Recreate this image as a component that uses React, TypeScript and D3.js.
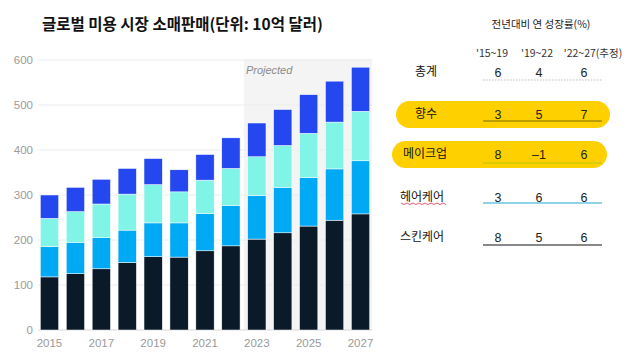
import React from 'react';
import * as d3 from 'd3';

// 연도별 소매판매 (단위: 10억 달러), 아래부터 위로 쌓임
const years = ['2015', '2016', '2017', '2018', '2019', '2020', '2021', '2022', '2023', '2024', '2025', '2026', '2027'];
const skinCare = [118, 125, 136, 150, 163, 162, 176, 187, 202, 216, 231, 244, 258];
const hairCare = [67, 70, 69, 72, 75, 76, 83, 90, 97, 101, 108, 114, 118];
const makeup = [63, 68, 75, 80, 85, 69, 74, 82, 86, 93, 98, 104, 110];
const fragrance = [52, 54, 55, 57, 58, 49, 57, 68, 75, 80, 86, 91, 98];
const projectedFrom = '2023';
const yTicks = [0, 100, 200, 300, 400, 500, 600];
const xLabels = ['2015', '2017', '2019', '2021', '2023', '2025', '2027'];

// 성장률 표
const periods = ["'15~19", "'19~22", "'22~27(추정)"];
const rowNames = ['총계', '향수', '메이크업', '헤어케어', '스킨케어'];
const growth = [
  [6, 4, 6],
  [3, 5, 7],
  [8, -1, 6],
  [3, 6, 6],
  [8, 5, 6],
];

const seriesKeys = ['skin', 'hair', 'makeup', 'fragrance'];
const colors: Record<string, string> = {
  skin: '#0a1a28',
  hair: '#00a9f4',
  makeup: '#7ff4e7',
  fragrance: '#2447ef',
};

const font = '"Liberation Sans", "Noto Sans CJK KR", sans-serif';
const krFont = '"Noto Sans CJK KR", sans-serif';

export default function App() {
  const width = 640;
  const height = 360;

  const x = d3.scaleBand<string>()
    .domain(years)
    .range([38, 372])
    .paddingInner(0.294)
    .paddingOuter(0.09);

  const y = d3.scaleLinear().domain([0, 600]).range([330, 60]);

  const table = years.map((yr, i) => ({
    year: yr,
    skin: skinCare[i],
    hair: hairCare[i],
    makeup: makeup[i],
    fragrance: fragrance[i],
  }));
  const stack = d3.stack<any>().keys(seriesKeys)(table);

  const projX = (x(projectedFrom) ?? 0) - (x.step() - x.bandwidth()) / 2;

  // table layout
  const colX = [498, 539, 584];
  const headerX = [492, 537, 593];
  const rowY = [72, 114, 154, 197, 237];
  const underline = [
    { y: 80, color: '#bbbbbb', w: 1, dash: '1.5,1.5' },
    { y: 121, color: '#7a6a00', w: 1, dash: '' },
    { y: 163, color: '#b5c800', w: 1.2, dash: '' },
    { y: 203, color: '#8ed3e6', w: 2, dash: '' },
    { y: 245, color: '#888888', w: 2, dash: '' },
  ];
  const pills = [
    { row: 1, x0: 396, x1: 610, y0: 101, y1: 128 },
    { row: 2, x0: 392, x1: 607, y0: 141, y1: 168 },
  ];
  const labelX = [415, 415, 403, 400, 400];

  // red spell-check squiggle under 헤어케어
  const squiggle = d3.range(0, 16).map(i => [401 + i * 3, 203 + (i % 2 === 0 ? 0 : 1.5)] as [number, number]);

  return (
    <svg width={width} height={height} style={{ position: 'absolute', left: 0, top: 0, background: '#fff' }}>
      <rect width={width} height={height} fill="#fff" />
      <text x={42} y={30} fontFamily={krFont} fontWeight={700} fontSize={15.5} fill="#111">
        글로벌 미용 시장 소매판매(단위: 10억 달러)
      </text>

      {/* projected area */}
      <rect x={projX} y={59} width={372 - projX} height={271} fill="#f4f4f4" />
      <text x={projX + 2} y={74} fontFamily={font} fontStyle="italic" fontSize={11} fill="#8a8a8a">Projected</text>

      {/* gridlines */}
      {yTicks.map(t => (
        <g key={t}>
          <line x1={38} x2={372} y1={y(t)} y2={y(t)} stroke={t === 0 ? '#d8d8d8' : '#ececec'} strokeWidth={1} />
          <text x={33} y={y(t) + 4} textAnchor="end" fontFamily={font} fontSize={11.5} fill="#9a9a9a">{t}</text>
        </g>
      ))}

      {/* bars */}
      {stack.map(layer => (
        <g key={layer.key} fill={colors[layer.key]}>
          {layer.map((d, i) => (
            <rect
              key={i}
              x={x(years[i])}
              y={y(d[1])}
              width={x.bandwidth()}
              height={y(d[0]) - y(d[1])}
              stroke="#ffffff"
              strokeWidth={0.5}
            />
          ))}
        </g>
      ))}

      {xLabels.map(l => (
        <text key={l} x={(x(l) ?? 0) + x.bandwidth() / 2} y={347} textAnchor="middle" fontFamily={font} fontSize={11.5} fill="#9a9a9a">{l}</text>
      ))}

      {/* growth table */}
      <text x={541} y={28} textAnchor="middle" fontFamily={krFont} fontSize={10.5} fill="#222">전년대비 연 성장률(%)</text>
      {periods.map((p, i) => (
        <text key={p} x={headerX[i]} y={57} textAnchor="middle" fontFamily={krFont} fontSize={10.5} fill="#333">{p}</text>
      ))}
      {pills.map(p => (
        <rect key={p.row} x={p.x0} y={p.y0} width={p.x1 - p.x0} height={p.y1 - p.y0} rx={(p.y1 - p.y0) / 2} fill="#ffd000" />
      ))}
      {underline.map((u, i) => (
        <line key={i} x1={483} x2={602} y1={u.y} y2={u.y} stroke={u.color} strokeWidth={u.w} strokeDasharray={u.dash || undefined} />
      ))}
      <path d={d3.line()(squiggle) ?? ''} fill="none" stroke="#e0304a" strokeWidth={0.8} />
      {rowNames.map((name, r) => (
        <g key={name}>
          <text x={labelX[r]} y={rowY[r] + 4} fontFamily={krFont} fontSize={12} fill="#111">{name}</text>
          {growth[r].map((v, c) => (
            <text key={c} x={colX[c]} y={rowY[r] + 4.5} textAnchor="middle" fontFamily={font} fontSize={12.5} fill="#222">
              {v < 0 ? `\u2013${Math.abs(v)}` : v}
            </text>
          ))}
        </g>
      ))}
    </svg>
  );
}
